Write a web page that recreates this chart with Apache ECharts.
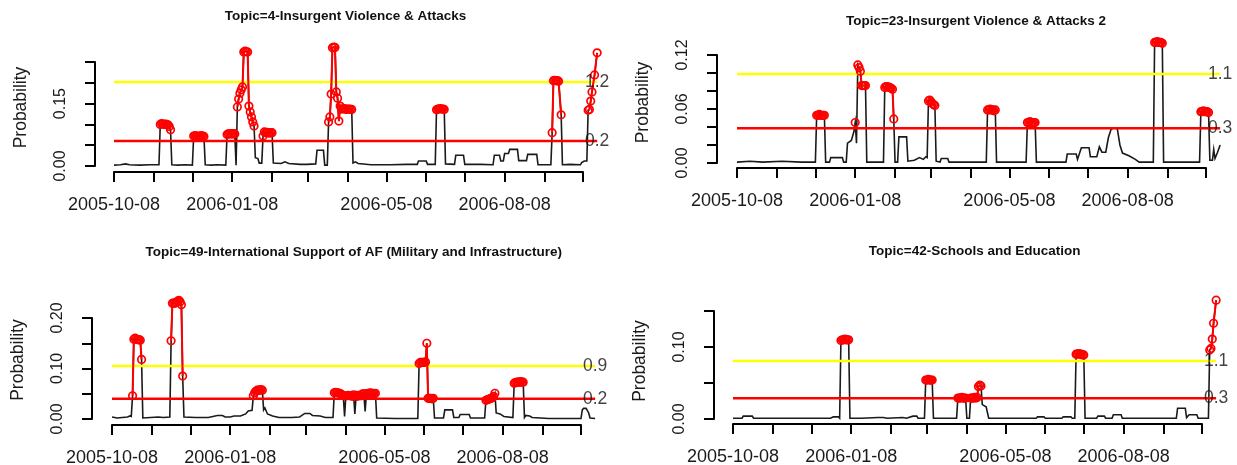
<!DOCTYPE html>
<html><head><meta charset="utf-8">
<script src="https://cdn.jsdelivr.net/npm/echarts@6/dist/echarts.min.js"></script>
<style>html,body{margin:0;padding:0;background:#fff}#c{width:1237px;height:465px}</style>
</head><body><div id="c"></div><script>
// ---------------- data ----------------
const startDate = '2005-10-08';
const xTickDates = ['2005-10-08','2005-11-08','2005-12-08','2006-01-08','2006-02-08','2006-03-08','2006-04-08','2006-05-08','2006-06-08','2006-07-08','2006-08-08','2006-09-08','2006-10-08'];
const xLabelDates = ['2005-10-08','2006-01-08','2006-05-08','2006-08-08'];
const titles = [
  'Topic=4-Insurgent Violence & Attacks',
  'Topic=23-Insurgent Violence & Attacks 2',
  'Topic=49-International Support of AF (Military and Infrastructure)',
  'Topic=42-Schools and Education'
];

// [day since 2005-10-08, probability]
const topic4 = [[0,0.002],[5,0.003],[9,0.005],[12,0.003],[20,0.002],[28,0.003],[35,0.003],
[36,0.100],[37,0.102],[38,0.101],[39,0.100],[40,0.101],[41,0.100],[42,0.099],[43,0.095],[44,0.087],
[45,0.003],[50,0.002],[55,0.003],[61,0.002],
[62,0.072],[63,0.073],[64,0.072],[65,0.072],[66,0.071],[67,0.072],[68,0.073],[69,0.072],[70,0.071],
[71,0.003],[76,0.002],[80,0.003],[87,0.002],
[88,0.076],[89,0.077],[90,0.078],[91,0.077],[92,0.077],[93,0.078],[94,0.077],
[95,0.002],
[96,0.142],[97,0.161],[98,0.175],[99,0.183],[100,0.190],[101,0.274],[102,0.276],[103,0.275],[104,0.274],[105,0.144],[106,0.130],[107,0.118],[108,0.106],[109,0.096],
[110,0.020],[112,0.018],[113,0.007],[115,0.007],
[116,0.072],[117,0.082],[118,0.080],[119,0.081],[120,0.080],[121,0.079],[122,0.080],[123,0.080],
[124,0.007],[130,0.006],[133,0.010],[136,0.006],[145,0.004],[150,0.004],[157,0.005],
[158,0.038],[163,0.038],[164,0.002],[166,0.002],
[167,0.106],[168,0.118],[169,0.173],[170,0.284],[171,0.286],[172,0.285],[173,0.178],[174,0.163],[175,0.108],[176,0.144],[177,0.137],[178,0.137],[179,0.138],[180,0.137],[181,0.136],[182,0.137],[183,0.137],[184,0.136],[185,0.136],
[186,0.007],[188,0.010],[190,0.006],[200,0.003],[215,0.003],[228,0.004],[236,0.004],[237,0.012],[243,0.012],[244,0.004],[250,0.004],
[251,0.135],[252,0.137],[253,0.137],[254,0.138],[255,0.137],[256,0.137],[257,0.136],
[258,0.005],[265,0.004],[266,0.026],[272,0.026],[273,0.004],[285,0.004],[295,0.003],[296,0.026],[300,0.026],[301,0.012],[303,0.012],[304,0.030],[307,0.030],[308,0.040],[314,0.040],[315,0.013],[321,0.013],[322,0.028],[329,0.028],[330,0.003],[340,0.003],
[341,0.080],[342,0.205],[343,0.206],[344,0.205],[345,0.205],[346,0.204],[348,0.123],
[349,0.003],[355,0.004],[363,0.003],[364,0.008],[366,0.012],[368,0.012],
[369,0.134],[370,0.136],[371,0.156],[372,0.178],[374,0.219],[376,0.272]];
const topic4Alerts = [[36,44],[62,70],[88,94],[96,109],[116,123],[167,185],[251,257],[341,348],[369,376]];
const topic4Limits = [0.202, 0.060];
const topic4LimitLabels = ['1.2', '0.2'];
const topic4YTicks = [0, 0.05, 0.10, 0.15, 0.20, 0.25];
const topic4YLabels = [0, 0.15];

const topic23 = [[0,0.001],[10,0.002],[20,0.001],[35,0.002],[50,0.001],[61,0.001],
[62,0.053],[63,0.053],[64,0.054],[65,0.053],[66,0.053],[67,0.053],[68,0.053],
[69,0.001],[72,0.001],[73,0.006],[82,0.006],[83,0.001],[85,0.001],
[86,0.022],[89,0.025],[90,0.030],[91,0.035],[92,0.045],[93,0.022],
[94,0.109],[95,0.106],[96,0.102],[97,0.086],[98,0.086],[99,0.086],[100,0.086],
[101,0.001],[108,0.001],[114,0.001],
[115,0.084],[116,0.085],[117,0.085],[118,0.084],[119,0.084],[120,0.083],[121,0.082],[122,0.049],
[123,0.001],[125,0.001],[126,0.029],[132,0.029],[133,0.002],[138,0.003],[142,0.006],[145,0.004],[147,0.007],[148,0.006],
[149,0.069],[150,0.070],[151,0.068],[152,0.066],[153,0.065],[154,0.064],
[155,0.002],[158,0.001],[159,0.005],[164,0.005],[165,0.001],[180,0.001],[194,0.001],
[195,0.059],[196,0.059],[197,0.060],[198,0.059],[199,0.059],[200,0.058],[201,0.059],
[202,0.001],[215,0.001],[225,0.001],
[226,0.045],[227,0.045],[228,0.046],[229,0.045],[230,0.045],[231,0.045],[232,0.045],
[233,0.001],[245,0.001],[256,0.001],[257,0.010],[264,0.010],[265,0.004],[268,0.017],[274,0.017],[275,0.007],[280,0.007],[282,0.018],[284,0.012],[287,0.012],[289,0.028],[291,0.037],[293,0.039],[296,0.038],[298,0.020],[300,0.011],[305,0.008],[310,0.004],[313,0.001],[324,0.001],
[325,0.134],[326,0.134],[327,0.135],[328,0.134],[329,0.134],[330,0.134],[331,0.133],
[332,0.001],[345,0.001],[360,0.001],
[361,0.057],[362,0.057],[363,0.058],[364,0.057],[365,0.057],[366,0.057],[367,0.056],
[368,0.003],[370,0.003],[371,0.015],[372,0.005],[374,0.012],[376,0.020]];
const topic23Alerts = [[62,68],[92,92],[94,100],[115,122],[149,154],[195,201],[226,232],[325,331],[361,367]];
const topic23Limits = [0.0990, 0.0385];
const topic23LimitLabels = ['1.1', '0.3'];
const topic23YTicks = [0, 0.02, 0.04, 0.06, 0.08, 0.10, 0.12];
const topic23YLabels = [0, 0.06, 0.12];

const topic49 = [[0,0.004],[4,0.002],[8,0.003],[12,0.004],[14,0.006],[15,0.005],
[16,0.046],[17,0.158],[18,0.160],[19,0.158],[20,0.157],[21,0.157],[22,0.156],[23,0.118],
[24,0.002],[30,0.003],[36,0.004],[40,0.003],[45,0.004],
[46,0.155],[47,0.229],[48,0.230],[49,0.229],[50,0.231],[51,0.233],[52,0.235],[53,0.232],[54,0.226],[55,0.085],
[56,0.004],[65,0.003],[75,0.003],[82,0.007],[86,0.007],[88,0.004],[92,0.004],[95,0.006],[100,0.006],[104,0.010],[106,0.016],[109,0.017],
[110,0.046],[111,0.052],[112,0.055],[113,0.057],[114,0.057],[115,0.057],[116,0.058],[117,0.057],
[118,0.018],[119,0.022],[121,0.010],[125,0.006],[130,0.003],[140,0.003],[146,0.004],[150,0.011],[154,0.011],[156,0.007],[162,0.006],[166,0.003],[172,0.003],
[173,0.052],[174,0.053],[175,0.052],[176,0.052],[177,0.051],[178,0.050],[179,0.048],[180,0.046],
[181,0.005],
[182,0.046],[183,0.046],[184,0.047],[185,0.046],[186,0.046],[187,0.045],[188,0.048],
[189,0.010],
[190,0.047],[191,0.045],[192,0.047],[193,0.046],[194,0.046],[195,0.050],[196,0.050],
[197,0.015],
[198,0.050],[199,0.051],[200,0.051],[201,0.052],[202,0.051],[203,0.051],[204,0.050],[205,0.051],
[206,0.002],[220,0.001],[238,0.001],
[239,0.110],[240,0.112],[241,0.112],[242,0.112],[243,0.112],[244,0.113],[245,0.150],[246,0.041],[247,0.041],[248,0.041],[249,0.040],[250,0.041],
[251,0.002],[258,0.002],[259,0.018],[265,0.018],[266,0.003],[270,0.003],[271,0.009],[278,0.009],[279,0.002],[290,0.002],
[291,0.037],[292,0.038],[293,0.039],[294,0.040],[295,0.041],[296,0.042],[297,0.045],[298,0.051],
[299,0.012],[302,0.010],[305,0.005],[312,0.003],
[313,0.071],[314,0.072],[315,0.073],[316,0.073],[317,0.073],[318,0.074],[319,0.073],[320,0.073],
[321,0.003],[322,0.007],[325,0.006],[327,0.003],[340,0.001],[365,0.001],[366,0.018],[367,0.021],[369,0.021],[371,0.012],[372,0.002],[376,0.001]];
const topic49Alerts = [[16,23],[46,55],[110,117],[173,180],[182,188],[190,196],[198,205],[239,250],[291,298],[313,320]];
const topic49Limits = [0.105, 0.040];
const topic49LimitLabels = ['0.9', '0.2'];
const topic49YTicks = [0, 0.05, 0.10, 0.15, 0.20];
const topic49YLabels = [0, 0.10, 0.20];

const topic42 = [[0,0.001],[7,0.001],[8,0.004],[15,0.004],[16,0.001],[40,0.001],[60,0.001],[76,0.001],[78,0.003],[82,0.003],[83,0.001],
[84,0.109],[85,0.110],[86,0.110],[87,0.111],[88,0.110],[89,0.110],[90,0.110],
[91,0.001],[100,0.001],[113,0.002],[117,0.002],[120,0.001],[132,0.002],[135,0.001],[140,0.004],[143,0.004],[144,0.001],[149,0.001],
[150,0.054],[151,0.054],[152,0.055],[153,0.054],[154,0.054],[155,0.054],
[156,0.001],[174,0.001],
[175,0.029],[176,0.029],[177,0.029],[178,0.030],[179,0.029],[180,0.029],[181,0.029],
[182,0.001],[184,0.001],
[185,0.029],[186,0.029],[187,0.029],[188,0.030],[189,0.029],[190,0.030],[191,0.045],[192,0.047],[193,0.046],
[194,0.020],[197,0.017],[199,0.001],[236,0.001],[237,0.003],[242,0.003],[243,0.001],[256,0.001],[257,0.003],[263,0.003],[264,0.001],[266,0.001],
[267,0.090],[268,0.090],[269,0.091],[270,0.090],[271,0.090],[272,0.089],[273,0.089],
[274,0.001],[283,0.001],[284,0.004],[289,0.004],[290,0.001],[295,0.001],[296,0.006],[302,0.006],[303,0.001],[345,0.001],[346,0.015],[352,0.015],[353,0.002],[355,0.006],[361,0.006],[362,0.001],[370,0.001],
[371,0.096],[372,0.098],[373,0.111],[374,0.133],[376,0.165]];
const topic42Alerts = [[84,90],[150,155],[175,181],[185,193],[267,273],[371,376]];
const topic42Limits = [0.0806, 0.0287];
const topic42LimitLabels = ['1.1', '0.3'];
const topic42YTicks = [0, 0.05, 0.10, 0.15];
const topic42YLabels = [0, 0.10];

// ---------------- build ----------------
function ymd(s){ const p = s.split('-').map(Number); return Date.UTC(p[0], p[1]-1, p[2]); }
function dayOf(s){ return Math.round((ymd(s) - ymd(startDate)) / 86400000); }
const tickDays = xTickDates.map(dayOf);
const labelDays = xLabelDates.map(dayOf);
const dayToLabel = {};
xLabelDates.forEach(s => { dayToLabel[dayOf(s)] = s; });

const topics = [
  {data: topic4, alerts: topic4Alerts, limits: topic4Limits, limitLabels: topic4LimitLabels, yTicks: topic4YTicks, yLabels: topic4YLabels},
  {data: topic23, alerts: topic23Alerts, limits: topic23Limits, limitLabels: topic23LimitLabels, yTicks: topic23YTicks, yLabels: topic23YLabels},
  {data: topic49, alerts: topic49Alerts, limits: topic49Limits, limitLabels: topic49LimitLabels, yTicks: topic49YTicks, yLabels: topic49YLabels},
  {data: topic42, alerts: topic42Alerts, limits: topic42Limits, limitLabels: topic42LimitLabels, yTicks: topic42YTicks, yLabels: topic42YLabels}
];

const layout = [
  {left:114, top:62,  width:469, height:104, xOff:6, yOff:19, tx:345.5, ty:9.5,   nameShift:13},
  {left:737, top:55,  width:469, height:108, xOff:5, yOff:20, tx:976,   ty:14,    nameShift:13},
  {left:112, top:318, width:469, height:101, xOff:6, yOff:20, tx:353.7, ty:245.5, nameShift:17},
  {left:733, top:311, width:469, height:108, xOff:5, yOff:19, tx:974.7, ty:244,   nameShift:8}
];

function alertRuns(data, alerts){
  return alerts.map(r => data.filter(p => p[0] >= r[0] && p[0] <= r[1]));
}

const font = "'Liberation Sans', Arial, Helvetica, sans-serif";
const option = {animation:false, backgroundColor:'#ffffff', title:[], grid:[], xAxis:[], yAxis:[], series:[]};

topics.forEach((t, i) => {
  const L = layout[i];
  option.title.push({text: titles[i], left: L.tx, top: L.ty, textAlign: 'center', padding: 0,
    textStyle: {fontFamily: font, fontSize: 13.5, fontWeight: 'bold', color: '#111', lineHeight: 14}});
  option.grid.push({left: L.left, top: L.top, width: L.width, height: L.height, containLabel: false, outerBoundsMode: 'none'});
  option.xAxis.push({gridIndex: i, type: 'value', min: tickDays[0], max: tickDays[tickDays.length-1], offset: L.xOff,
    axisLine: {show: true, onZero: false, lineStyle: {color: '#000', width: 2}},
    axisTick: {show: true, length: 10, customValues: tickDays, lineStyle: {color: '#000', width: 2}},
    axisLabel: {show: true, customValues: labelDays, formatter: v => dayToLabel[Math.round(v)] || '',
      fontFamily: font, fontSize: 18, lineHeight: 18, color: '#1a1a1a', margin: 24, hideOverlap: false},
    splitLine: {show: false}});
  option.yAxis.push({gridIndex: i, type: 'value', min: t.yTicks[0], max: t.yTicks[t.yTicks.length-1], offset: L.yOff,
    name: 'Probability', nameLocation: 'middle', nameRotate: 90, nameGap: 65, nameMoveOverlap: false,
    nameTextStyle: {fontFamily: font, fontSize: 17.5, lineHeight: 18, color: '#1a1a1a', padding: [0, 0, 0, L.nameShift]},
    axisLine: {show: true, onZero: false, lineStyle: {color: '#000', width: 2}},
    axisTick: {show: true, length: 10, customValues: t.yTicks, lineStyle: {color: '#000', width: 2}},
    axisLabel: {show: true, customValues: t.yLabels, rotate: 90, formatter: v => Number(v).toFixed(2),
      fontFamily: font, fontSize: 16, lineHeight: 16, color: '#1a1a1a', margin: 26, hideOverlap: false},
    splitLine: {show: false}});
  const last = t.data[t.data.length-1][0];
  const common = {xAxisIndex: i, yAxisIndex: i, coordinateSystem: 'cartesian2d', clip: false, silent: true};
  // black probability line
  option.series.push(Object.assign({type: 'lines', polyline: true, data: [{coords: t.data}],
    lineStyle: {color: '#1a1a1a', width: 1.6, opacity: 1}, z: 2}, common));
  // threshold lines
  ['#ffff00', '#ff0000'].forEach((c, k) => {
    option.series.push(Object.assign({type: 'lines', polyline: true,
      data: [{coords: [[0, t.limits[k]], [last, t.limits[k]]]}],
      lineStyle: {color: c, width: 2.5, opacity: 1}, z: 3}, common));
  });
  // alert runs: red lines + open circles
  const runs = alertRuns(t.data, t.alerts);
  option.series.push(Object.assign({type: 'lines', polyline: true,
    data: runs.filter(r => r.length > 1).map(r => ({coords: r})),
    lineStyle: {color: '#ff0000', width: 2, opacity: 1}, z: 4}, common));
  option.series.push(Object.assign({type: 'scatter', data: [].concat(...runs),
    symbol: 'circle', symbolSize: 7.5,
    itemStyle: {color: 'rgba(255,255,255,0)', borderColor: '#ff0000', borderWidth: 1.7, opacity: 1}, z: 5}, common));
  // threshold labels
  option.series.push(Object.assign({type: 'scatter',
    data: t.limits.map((v, k) => ({value: [last, v], label: {formatter: t.limitLabels[k]}})),
    symbol: 'circle', symbolSize: 1, itemStyle: {color: 'rgba(0,0,0,0)'},
    label: {show: true, position: 'inside', fontFamily: font, fontSize: 17.5, color: '#111'}, z: 6}, common));
});

const chart = echarts.init(document.getElementById('c'), null, {renderer: 'canvas'});
chart.setOption(option);
</script></body></html>
